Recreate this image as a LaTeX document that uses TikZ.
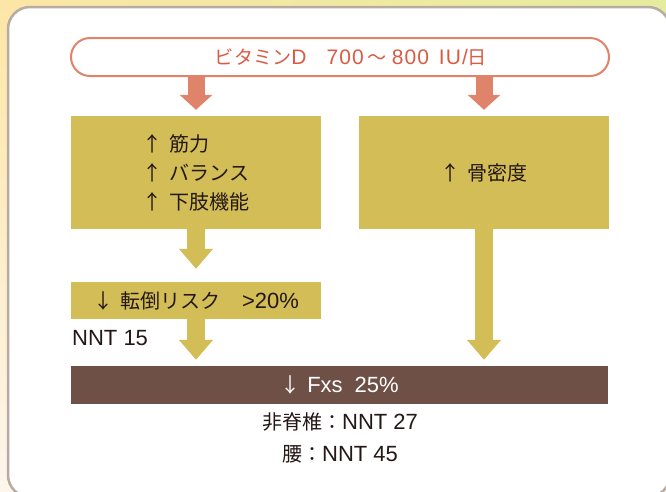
\documentclass[tikz,border=0pt]{standalone}
\usepackage{fontspec}
\setmainfont{Liberation Sans}
\newfontfamily\jp[Scale=0.91]{Noto Sans CJK JP}
\newfontfamily\titlelat[LetterSpace=5]{Liberation Sans}
\usetikzlibrary{arrows.meta,shadings}
\definecolor{salmon}{HTML}{E0836B}
\definecolor{titletext}{HTML}{D95B43}
\definecolor{ybox}{HTML}{D3BD57}
\definecolor{brownbar}{HTML}{6E5046}
\definecolor{txt}{HTML}{231815}
\definecolor{panelborder}{HTML}{B8ABA3}
\definecolor{bgTL}{HTML}{FCE6A6}
\definecolor{bgTR}{HTML}{E4EC9E}
\definecolor{bgBL}{HTML}{FEF5EC}
\definecolor{bgBR}{HTML}{F6F8E4}
\newcommand{\up}{{\jp ↑}\hspace{7pt}}
\newcommand{\dn}{{\jp ↓}\hspace{7pt}}
\tikzset{
  titlebox/.style={draw=salmon, line width=2pt, rounded corners=19pt, fill=white,
    minimum width=538pt, minimum height=38pt, inner sep=0pt, text=titletext,
    font=\fontsize{21}{24}\selectfont},
  ybox/.style={fill=ybox, inner sep=0pt, text=txt, font=\fontsize{22}{29}\selectfont},
  bbox/.style={fill=brownbar, inner sep=0pt, text=white, font=\fontsize{22}{26}\selectfont},
  plain/.style={inner sep=0pt, text=txt, font=\fontsize{22}{26}\selectfont},
  sarrow/.style={draw=salmon, line width=17pt, -{Triangle[width=32pt,length=15pt]}},
  yarrow/.style={draw=ybox, line width=18pt, -{Triangle[width=33pt,length=20pt]}},
}
\begin{document}
\begin{tikzpicture}[x=1pt,y=-1pt]
\useasboundingbox (0,0) rectangle (666,491);
\shade[upper left=bgTL, upper right=bgTR, lower left=bgBL, lower right=bgBR] (0,0) rectangle (666,491);
\draw[fill=white, draw=panelborder, line width=2.5pt, rounded corners=22pt] (8,7) rectangle (670,497);

\node[titlebox] (vit) at (340,57)
  {\hspace{22pt}{\jp ビタミン}{\titlelat D}\hspace{20pt}{\titlelat 700}\hspace{4pt}{\jp ～}\hspace{5pt}{\titlelat 800}\hspace{10pt}{\titlelat IU/}{\jp 日}};

\node[ybox, minimum width=250pt, minimum height=113pt, align=left] (mus) at (196,172.5)
  {\up{\jp 筋力}\\\up{\jp バランス}\\\up{\jp 下肢機能}};
\node[ybox, minimum width=250pt, minimum height=113pt] (bone) at (484,172.5) {\up{\jp 骨密度}};
\node[ybox, minimum width=250pt, minimum height=37pt] (fall) at (196,300.5)
  {\dn{\jp 転倒リスク}\hspace{22pt}>20\%};
\node[plain, anchor=west] (nnt) at (72,338) {NNT 15};
\node[bbox, minimum width=537pt, minimum height=38pt] (fxs) at (339.5,385)
  {\dn Fxs\hspace{12pt}25\%};
\node[plain] (nv) at (340,422) {{\jp 非脊椎：}NNT 27};
\node[plain] (hip) at (340,454.5) {{\jp 腰：}NNT 45};

\draw[sarrow, shorten >=6pt] (vit.south -| mus.north) -- (mus.north);
\draw[sarrow, shorten >=6pt] (vit.south -| bone.north) -- (bone.north);
\draw[yarrow, shorten >=13pt] (mus.south) -- (fall.north);
\draw[yarrow, shorten >=6pt] (fall.south) -- (fall.south |- fxs.north);
\draw[yarrow, shorten >=6pt] (bone.south) -- (bone.south |- fxs.north);
\end{tikzpicture}
\end{document}
